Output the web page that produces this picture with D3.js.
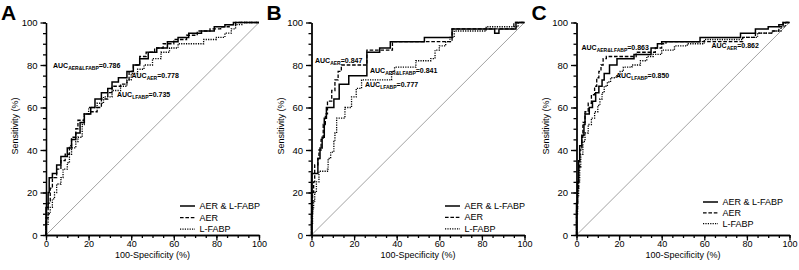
<!DOCTYPE html>
<meta charset="utf-8">
<style>
body { margin: 0; background: #fff; }
svg { font-family: "Liberation Sans", Arial, sans-serif; background: #fff; }
.axis path, .axis line { stroke: #000; stroke-width: 1.3; }
.axis text { font-size: 9.5px; fill: #000; }
.xaxis text { font-size: 9px; }
.title { font-size: 9px; fill: #000; }
.letter { font-size: 21px; font-weight: bold; }
.auc { font-size: 7px; font-weight: bold; fill: #000; }
.legend text { font-size: 9px; fill: #000; }
.diag { stroke: #8a8a8a; stroke-width: 0.8; fill: none; }
</style>
<svg width="799" height="270"></svg>
<script src="https://d3js.org/d3.v7.min.js"></script>
<script>

// tick values
var majorTicks = [0, 20, 40, 60, 80, 100];
var minorTicks = d3.range(0, 101, 5);
var panelLetters = ["A", "B", "C"];
var seriesNames = ["AER & L-FABP", "AER", "L-FABP"];

// ROC points [100-specificity, sensitivity], corners of the staircase
var rocA_both = [[0,0],[0,13],[1,20],[1.5,27],[3,29],[5,33],[7,37],[10,41],[12,45],[14,48],[16,53],[18,57],[21,60],[23,64],[26,67],[29,69],[31,72],[34,74],[38,77],[41,80],[44,83],[48,86],[52,88],[57,91],[62,93],[67,95],[73,96],[79,98],[84,99],[88,100],[100,100]];
var rocA_aer = [[0,0],[0,8],[1,15],[2,22],[3,27],[5,31],[7,35],[9,38],[11,42],[12,46],[14,50],[15,54],[18,57],[21,58],[24,60],[26,64],[29,67],[31,70],[35,71],[38,73],[39,77],[41,80],[44,84],[47,86],[51,88],[55,90],[60,92],[66,94],[71,96],[77,97],[82,98],[86,99],[89,100],[100,100]];
var rocA_lfabp = [[0,0],[0,5],[1,10],[2,13],[3,17],[4,20],[5,24],[7,27],[8,31],[10,34],[11,38],[12,41],[14,44],[15,46],[17,52],[18,57],[20,60],[24,62],[27,65],[31,68],[35,70],[38,73],[40,76],[43,78],[46,80],[50,83],[54,86],[58,88],[62,90],[71,90],[74,92],[80,93],[84,95],[87,97],[89,99],[92,100],[100,100]];

var rocB_both = [[0,0],[0,29],[3,36],[4,41],[5,46],[6,55],[7,60],[10.5,64],[13,71],[17.5,75],[26,86],[32,88],[37,91],[53,93],[66,97],[84,97],[86,95],[88,97],[96,100],[100,100]];
var rocB_aer = [[0,0],[0,10],[0.5,20],[1,25],[1.5,33],[3,36],[3.5,40],[4.5,45],[5.5,52],[6.5,57],[7.5,63],[9.5,68],[11,73],[12.5,77],[14,80],[26,87],[38,91],[66,97],[95,100],[100,100]];
var rocB_lfabp = [[0,0],[0,5],[0.5,12],[1,16],[1.5,20],[2.3,25],[3.5,30],[7.5,31],[7.8,36],[9,39],[10.5,44],[11,48],[11.8,55],[15,55],[15.7,60],[18.8,65],[21,69],[23.5,73],[35,73],[37.6,77],[39,79],[48,79],[49,82],[55,82],[56,83],[58,87],[60,89],[63,91],[65,93],[67,96],[80,96],[82,98],[95,98],[97,100],[100,100]];

var rocC_both = [[0,0],[0,15],[0.5,25],[1,35],[1.5,42],[2.5,47],[3.5,52],[4,57],[6,60],[7.5,63],[9,67],[10.5,70],[12,73],[13,76],[15.5,80],[19,83],[27,85],[35,88],[38,90],[40,91],[58,93],[77,95],[84,97],[90,98],[95,99],[97,100],[100,100]];
var rocC_aer = [[0,0],[0,12],[0.5,22],[1,32],[1.5,40],[2.5,46],[3,53],[4,58],[5.5,62],[7,66],[8.5,70],[9.5,74],[10.5,77],[11.5,80],[12.5,83],[14,84],[28,86],[37,88],[40,90],[42,91],[78,93],[84,95],[92,96],[95,98],[97,100],[100,100]];
var rocC_lfabp = [[0,0],[0,10],[0.5,18],[1,25],[1.5,32],[2,38],[3,44],[4,48],[5.5,52],[7,55],[8.5,58],[10,61],[11,64],[12,67],[13,70],[14.5,72],[16,74],[18.5,75],[20.5,77],[22,79],[26,80],[30,82],[33,84],[36,85],[40,87],[46,89],[52,90],[60,92],[78,93],[85,95],[92,96],[96,98],[98,100],[100,100]];

// AUC annotations: subscript, value
var aucA = [["AER&LFABP", "0.786"], ["AER", "0.778"], ["LFABP", "0.735"]];
var aucB = [["AER&LFABP", "0.841"], ["AER", "0.847"], ["LFABP", "0.777"]];
var aucC = [["AER&LFABP", "0.863"], ["AER", "0.862"], ["LFABP", "0.850"]];

var svg = d3.select("svg"),
    size = 213,
    y0 = 235,
    dashes = [null, "3.6,1.8", "1.2,1.2"],
    widths = [1.5, 1.3, 1.3];

var panels = [
  { x0: 46,    curves: [rocA_both, rocA_aer, rocA_lfabp], auc: aucA,
    aucPos: [[7, 68], [85.5, 77.5], [71, 97]], legend: [134, 209, 11.6] },
  { x0: 311.5, curves: [rocB_both, rocB_aer, rocB_lfabp], auc: aucB,
    aucPos: [[58.5, 72.7], [3.5, 63.3], [53.5, 86.5]], legend: [133.5, 209, 11.4] },
  { x0: 576.5, curves: [rocC_both, rocC_aer, rocC_lfabp], auc: aucC,
    aucPos: [[5, 50], [135, 47.7], [39.5, 78.3]], legend: [126.5, 205, 10.8] }
];

panels.forEach(function(p, pi) {
  var x = d3.scaleLinear().domain([0, 100]).range([p.x0, p.x0 + size]);
  var y = d3.scaleLinear().domain([0, 100]).range([y0, y0 - 212.5]);
  var g = svg.append("g");

  g.append("text").attr("class", "letter")
      .attr("x", p.x0 - 45).attr("y", 20)
      .text(panelLetters[pi]);

  // reference diagonal
  g.append("line").attr("class", "diag")
      .attr("x1", x(0)).attr("y1", y(0)).attr("x2", x(100)).attr("y2", y(100));

  var line = d3.line()
      .x(function(d) { return x(d[0]); })
      .y(function(d) { return y(d[1]); })
      .curve(d3.curveStepAfter);

  // draw dotted first, solid on top
  [2, 1, 0].forEach(function(k) {
    g.append("path")
        .datum(p.curves[k])
        .attr("d", line)
        .attr("fill", "none")
        .attr("stroke", "#000")
        .attr("stroke-width", widths[k])
        .attr("stroke-dasharray", dashes[k]);
  });

  // axes
  g.append("g").attr("class", "axis")
      .attr("transform", "translate(0," + y0 + ")")
      .call(d3.axisBottom(x).tickValues(minorTicks).tickSize(3).tickSizeOuter(0).tickFormat(""));
  g.append("g").attr("class", "axis xaxis")
      .attr("transform", "translate(0," + y0 + ")")
      .call(d3.axisBottom(x).tickValues(majorTicks).tickSize(5.5).tickSizeOuter(0).tickPadding(0));
  g.append("g").attr("class", "axis")
      .attr("transform", "translate(" + p.x0 + ",0)")
      .call(d3.axisLeft(y).tickValues(minorTicks).tickSize(3).tickSizeOuter(0).tickFormat(""));
  g.append("g").attr("class", "axis")
      .attr("transform", "translate(" + p.x0 + ",0)")
      .call(d3.axisLeft(y).tickValues(majorTicks).tickSize(5.5).tickSizeOuter(0).tickPadding(3));

  g.append("text").attr("class", "title")
      .attr("x", p.x0 + size / 2).attr("y", 258)
      .attr("text-anchor", "middle")
      .text("100-Specificity (%)");
  g.append("text").attr("class", "title")
      .attr("transform", "translate(" + (p.x0 - 28) + ",126) rotate(-90)")
      .attr("text-anchor", "middle")
      .text("Sensitivity (%)");

  // AUC labels
  p.auc.forEach(function(a, i) {
    var t = g.append("text").attr("class", "auc")
        .attr("x", p.x0 + p.aucPos[i][0]).attr("y", p.aucPos[i][1]);
    t.append("tspan").text("AUC");
    t.append("tspan").attr("dy", 2).style("font-size", "5px").text(a[0]);
    t.append("tspan").attr("dy", -2).text("=" + a[1]);
  });

  // legend
  var lg = g.append("g").attr("class", "legend");
  seriesNames.forEach(function(name, k) {
    var ly = p.legend[1] + k * p.legend[2];
    lg.append("line")
        .attr("x1", p.x0 + p.legend[0]).attr("x2", p.x0 + p.legend[0] + 15)
        .attr("y1", ly - 3).attr("y2", ly - 3)
        .attr("stroke", "#000").attr("stroke-width", widths[k])
        .attr("stroke-dasharray", dashes[k]);
    lg.append("text")
        .attr("x", p.x0 + p.legend[0] + 19.5).attr("y", ly)
        .text(name);
  });
});

</script>
